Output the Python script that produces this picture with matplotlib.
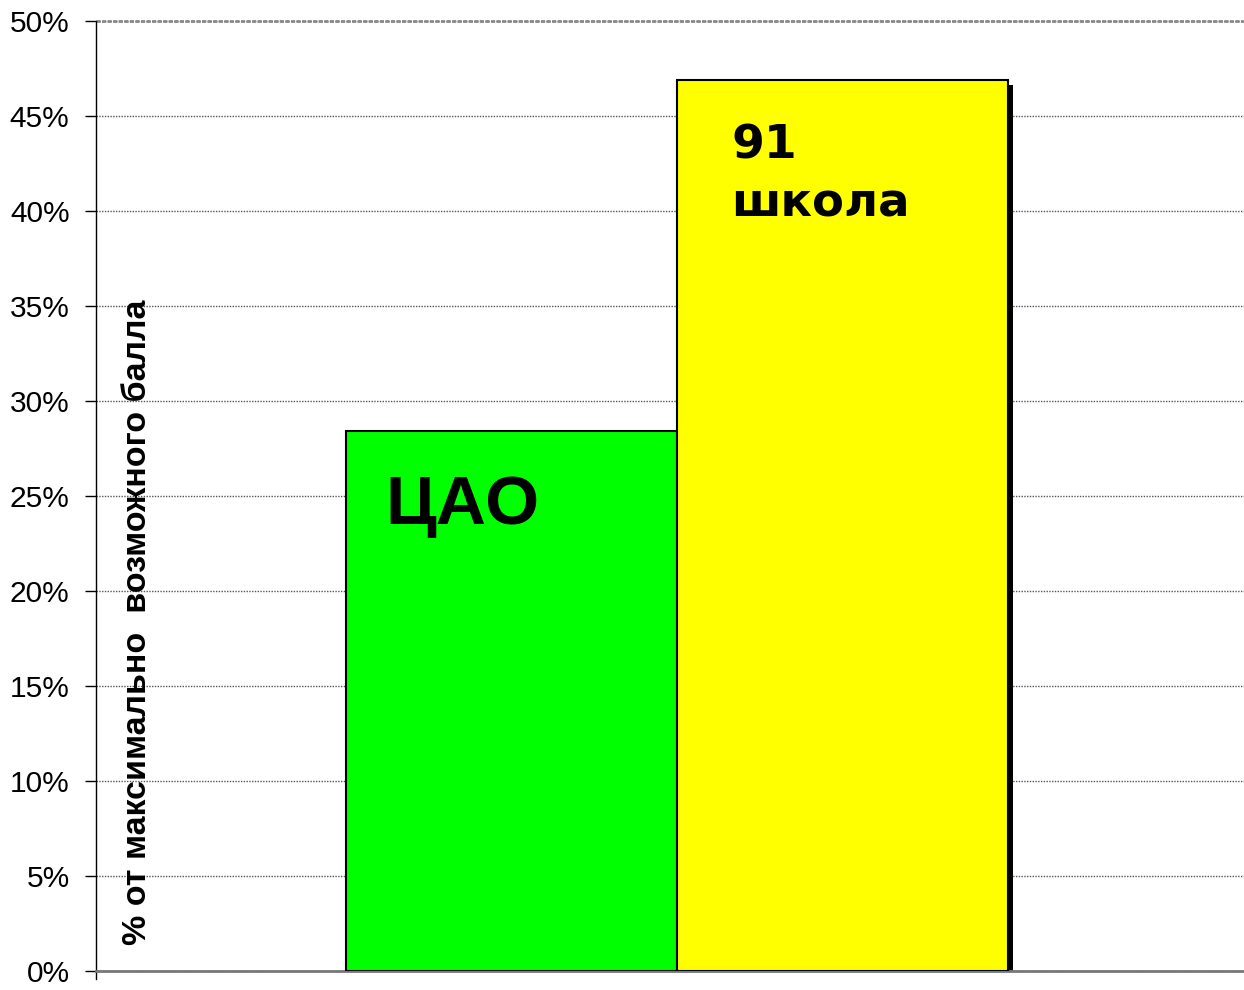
import numpy as np
import matplotlib.pyplot as plt
from matplotlib.ticker import FuncFormatter

# данные
kategorii = ['ЦАО', '91 школа']
znacheniya = [28.4, 46.9]
cveta = ['#00ff00', '#ffff00']
yerliki = [0, 5, 10, 15, 20, 25, 30, 35, 40, 45, 50]

plt.rcParams['font.family'] = ['Liberation Sans', 'DejaVu Sans']

fig = plt.figure(figsize=(12.44, 9.9), dpi=100)
ax = fig.add_axes([96 / 1244, 19 / 990, 1148 / 1244, 950 / 990])

x = np.arange(len(kategorii))
# тень справа у столбцов
ax.bar(x + 0.016, znacheniya, width=1.0, color='black', bottom=-0.27, zorder=2)
ax.bar(x, znacheniya, width=1.0, color=cveta, edgecolor='black', linewidth=1.5, zorder=3)

ax.set_xlim(-1.255, 2.213)
ax.set_ylim(0, 50)
ax.set_yticks(yerliki)
ax.yaxis.set_major_formatter(FuncFormatter(lambda v, p: '%d%%' % v))
ax.tick_params(axis='y', labelsize=21.5, length=8, width=1, direction='out', pad=11)
ax.set_xticks([])

ax.yaxis.grid(True, linestyle=(0, (1, 1)), color='#555555', linewidth=1)
ax.set_axisbelow(True)
for s in ['top', 'right']:
    ax.spines[s].set_visible(False)
ax.spines['bottom'].set_color('#777777')
ax.spines['bottom'].set_linewidth(2)
ax.spines['left'].set_bounds(-0.4, 50)
ax.spines['left'].set_linewidth(1)
ax.axhline(50, color='#888888', linewidth=2, linestyle=(0, (1.5, 0.5)), zorder=1, clip_on=False)

# подпись оси внутри поля
ax.text(-1.131, 1.37, '% от максимально  возможного балла', rotation=90,
        fontsize=24.5, fontweight='bold', ha='center', va='bottom')

ax.text(-0.38, 23.5, 'ЦАО', fontsize=50, fontweight='bold', ha='left', va='baseline', zorder=4)
ax.text(0.665, 42.77, '91', fontsize=34, fontweight='bold', ha='left', va='baseline',
        family='DejaVu Sans', zorder=4)
ax.text(0.665, 39.72, 'школа', fontsize=33.5, fontweight='bold', ha='left', va='baseline',
        family='DejaVu Sans', zorder=4)

fig.savefig('out.png', dpi=100)
